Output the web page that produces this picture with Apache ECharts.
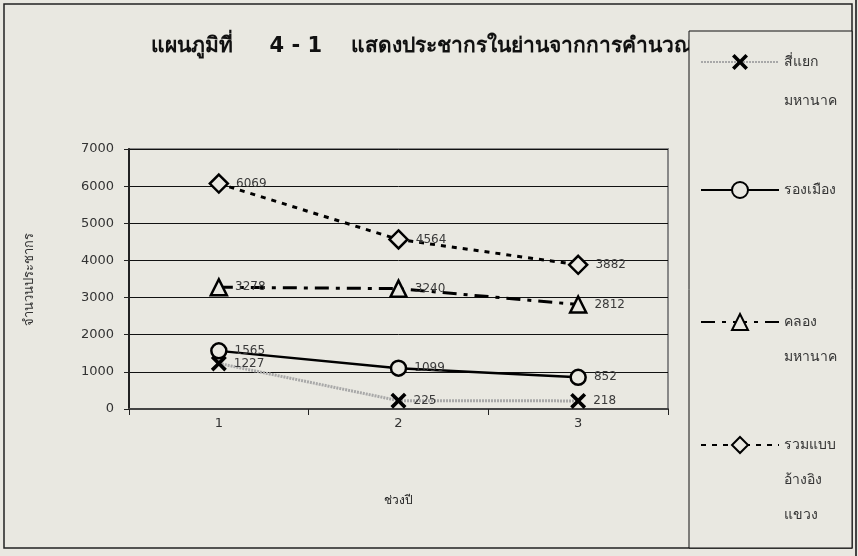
<!DOCTYPE html>
<html><head><meta charset="utf-8">
<script src="https://cdn.jsdelivr.net/npm/echarts@6/dist/echarts.min.js"></script>
<style>html,body{margin:0;padding:0;background:#e9e8e1;}#c{width:858px;height:556px;}</style>
</head><body><div id="c"></div>
<script>
const categories = ['1', '2', '3'];
const seriesNames = ['สี่แยก\nมหานาค', 'รองเมือง', 'คลอง\nมหานาค', 'รวมแบบ\nอ้างอิง\nแขวง'];
const siYaek = [1227, 225, 218];
const rongMueang = [1565, 1099, 852];
const khlong = [3278, 3240, 2812];
const ruam = [6069, 4564, 3882];
const yTicks = [0, 1000, 2000, 3000, 4000, 5000, 6000, 7000];

const BG = '#e9e8e1';
const FONT = 'Tahoma, "DejaVu Sans", "Noto Sans", sans-serif';
const X_PATH = 'path://M0,1.6L1.6,0L5,3.4L8.4,0L10,1.6L6.6,5L10,8.4L8.4,10L5,6.6L1.6,10L0,8.4L3.4,5Z';

const chart = echarts.init(document.getElementById('c'), null, {renderer: 'canvas'});
const label = {show: true, position: 'right', distance: 7, color: '#3a3a3a', fontSize: 12, fontFamily: FONT};

function mkLegend(name, top, lh, lines) {
  return {
    data: [name], orient: 'vertical', left: 700, top: top, padding: 0,
    itemWidth: 78, itemHeight: 20, itemGap: 0, z: 10,
    formatter: n => '\n'.repeat(lines - 1) + n,
    textStyle: {fontSize: 14, color: '#333', fontFamily: FONT, lineHeight: lh}
  };
}

chart.setOption({
  backgroundColor: BG,
  animation: false,
  title: {
    text: 'แผนภูมิที่     4 - 1    แสดงประชากรในย่านจากการคำนวณ',
    left: 146, top: 31, z: 1,
    textStyle: {fontSize: 21, fontWeight: 'bold', color: '#111', fontFamily: FONT}
  },
  graphic: [
    {type: 'rect', z: -1, shape: {x: 4, y: 4, width: 848, height: 544}, style: {fill: 'none', stroke: '#222', lineWidth: 1.5}},
    {type: 'line', z: -1, shape: {x1: 856, y1: 0, x2: 856, y2: 556}, style: {stroke: '#444', lineWidth: 2}},
    {type: 'rect', z: 5, shape: {x: 689, y: 31, width: 163, height: 517}, style: {fill: BG, stroke: '#111', lineWidth: 1}}
  ],
  legend: [
    mkLegend(seriesNames[0], 3.5, 39, 2),
    mkLegend(seriesNames[1], 172, 36, 1),
    mkLegend(seriesNames[2], 269.5, 35, 2),
    mkLegend(seriesNames[3], 357.5, 35, 3)
  ],
  grid: {left: 129, top: 149, right: 190, bottom: 147, show: true, borderColor: '#888', borderWidth: 2, backgroundColor: 'transparent'},
  xAxis: {
    type: 'category', data: categories, boundaryGap: true,
    name: 'ช่วงปี', nameLocation: 'middle', nameGap: 86,
    nameTextStyle: {fontSize: 12, color: '#222', fontFamily: '"Liberation Serif", serif'},
    axisLine: {lineStyle: {color: '#444', width: 2}},
    axisTick: {show: true, length: 6, lineStyle: {color: '#222', width: 1}},
    axisLabel: {fontSize: 13, color: '#333', margin: 8, fontFamily: FONT}
  },
  yAxis: {
    type: 'value', min: 0, max: 7000, interval: 1000,
    name: 'จำนวนประชากร', nameLocation: 'middle', nameGap: 93, nameRotate: 90,
    nameTextStyle: {fontSize: 13, color: '#333', fontFamily: '"Liberation Serif", serif'},
    axisLine: {show: true, lineStyle: {color: '#222', width: 2}},
    axisTick: {show: true, length: 5, lineStyle: {color: '#222'}},
    axisLabel: {fontSize: 13, color: '#333', margin: 15, fontFamily: FONT,
      formatter: v => yTicks.indexOf(v) >= 0 ? String(v) : ''},
    splitLine: {lineStyle: {color: '#111', width: 1}}
  },
  series: [
    {name: seriesNames[0], type: 'line', smooth: false, data: siYaek, symbol: X_PATH, symbolSize: 16,
      lineStyle: {color: '#a8a8a8', width: 3, type: [2, 1]}, itemStyle: {color: '#000'}, label: label, z: 3},
    {name: seriesNames[1], type: 'line', smooth: false, data: rongMueang, symbol: 'circle', symbolSize: 15,
      lineStyle: {color: '#000', width: 2.5, type: 'solid'}, itemStyle: {color: BG, borderColor: '#000', borderWidth: 2.5}, label: label, z: 3},
    {name: seriesNames[2], type: 'line', smooth: false, data: khlong, symbol: 'triangle', symbolSize: 16,
      lineStyle: {color: '#000', width: 3, type: [14, 7, 4, 7]}, itemStyle: {color: BG, borderColor: '#000', borderWidth: 2.5}, label: label, z: 3},
    {name: seriesNames[3], type: 'line', smooth: false, data: ruam, symbol: 'diamond', symbolSize: 18,
      lineStyle: {color: '#000', width: 3, type: [5, 6]}, itemStyle: {color: BG, borderColor: '#000', borderWidth: 2.5}, label: label, z: 3}
  ]
});
</script></body></html>
